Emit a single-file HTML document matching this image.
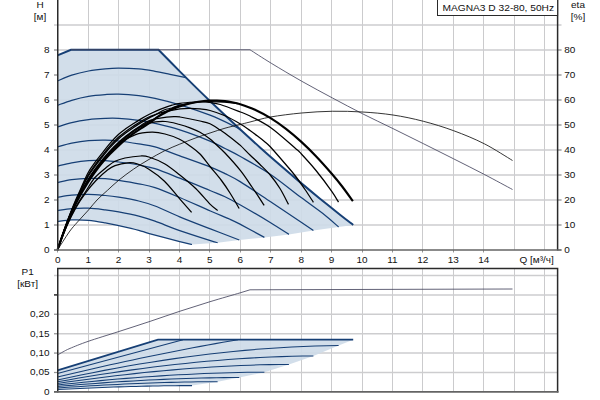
<!DOCTYPE html>
<html><head><meta charset="utf-8"><title>MAGNA3 D 32-80</title>
<style>html,body{margin:0;padding:0;background:#fff;}body{width:600px;height:400px;overflow:hidden;font-family:"Liberation Sans",sans-serif;}svg{display:block;}text{font-family:"Liberation Sans",sans-serif;font-size:10px;fill:#111;}</style>
</head><body>
<svg width="600" height="400" viewBox="0 0 600 400">
<rect x="0" y="0" width="600" height="400" fill="#fff"/>
<path d="M88.5 0V250M88.5 268.5V391.9M118.5 0V250M118.5 268.5V391.9M149.5 0V250M149.5 268.5V391.9M179.5 0V250M179.5 268.5V391.9M209.5 0V250M209.5 268.5V391.9M240.5 0V250M240.5 268.5V391.9M270.5 0V250M270.5 268.5V391.9M301.5 0V250M301.5 268.5V391.9M331.5 0V250M331.5 268.5V391.9M362.5 0V250M362.5 268.5V391.9M392.5 0V250M392.5 268.5V391.9M422.5 0V250M422.5 268.5V391.9M453.5 0V250M453.5 268.5V391.9M483.5 0V250M483.5 268.5V391.9M514.5 0V250M514.5 268.5V391.9M544.5 0V250M544.5 268.5V391.9" fill="none" stroke="#cbcbcd" stroke-width="1"/>
<path d="M54 225H561.5M54 200H561.5M54 175H561.5M54 150H561.5M54 125H561.5M54 100H561.5M54 75H561.5M54 50H561.5M54 25H561.5M54 372.5H558M54 353.1H558M54 333.7H558M54 314.3H558M54 294.9H558M54 275.5H558" fill="none" stroke="#cdcdcf" stroke-width="1.5"/>
<path d="M57.5 55.4L71 49.75L158.5 49.75C162.08 53.39 173.08 64.65 180 71.59C186.92 78.52 193.33 84.85 200 91.35C206.67 97.84 213.33 104.25 220 110.57C226.67 116.89 233.33 123.12 240 129.26C246.67 135.4 253.33 141.45 260 147.42C266.67 153.38 273.33 159.26 280 165.04C286.67 170.83 293.33 176.52 300 182.13C306.67 187.74 313.33 193.26 320 198.69C326.67 204.11 334.47 210.32 340 214.71C345.53 219.09 351 223.27 353.2 224.99L338.6 227L313.4 230.4L288.9 234.4L264.4 237.4L239.3 240L217.6 242.7L192 244.5C189.95 244.02 186.82 243.42 179.7 241.6C172.58 239.78 156.12 235.48 149.3 233.6C142.48 231.72 143.86 231.63 138.75 230.3C133.64 228.97 124.23 226.85 118.65 225.6C113.07 224.35 110.28 223.68 105.25 222.8C100.22 221.92 94.08 220.78 88.5 220.3C82.92 219.82 76.92 219.68 71.75 219.9C66.58 220.12 59.88 221.32 57.5 221.6Z" fill="#cedbe8" fill-opacity="0.92" stroke="none"/>
<path d="M57.5 370.3L158 339.7 L353.2 339.7L338.6 345.6L313.4 356L288.9 364.4L264.4 372.2L239.3 377.5L217.6 381.7L192 385.6L192 385.6L186.4 385.61L180.79 385.64L175.19 385.69L169.58 385.75L163.98 385.83L158.38 385.92L152.77 386.02L147.17 386.14L141.56 386.27L135.96 386.41L130.35 386.56L124.75 386.72L119.15 386.89L113.54 387.08L107.94 387.27L102.33 387.48L96.73 387.7L91.12 387.92L85.52 388.16L79.92 388.41L74.31 388.67L68.71 388.93L63.1 389.21L57.5 389.5Z" fill="#cedbe8" fill-opacity="0.92" stroke="none"/>
<path d="M54 250H57.5M558 250H561.5M54 225H57.5M558 225H561.5M54 200H57.5M558 200H561.5M54 175H57.5M558 175H561.5M54 150H57.5M558 150H561.5M54 125H57.5M558 125H561.5M54 100H57.5M558 100H561.5M54 75H57.5M558 75H561.5M54 50H57.5M558 50H561.5M54 391.9H57.5M54 372.5H57.5M54 353.1H57.5M54 333.7H57.5M54 314.3H57.5M54 294.9H57.5M57.5 250V252.5M88.5 250V252.5M118.5 250V252.5M149.5 250V252.5M179.5 250V252.5M209.5 250V252.5M240.5 250V252.5M270.5 250V252.5M301.5 250V252.5M331.5 250V252.5M362.5 250V252.5M392.5 250V252.5M422.5 250V252.5M453.5 250V252.5M483.5 250V252.5" fill="none" stroke="#959595" stroke-width="1"/>
<path d="M54 294.9H58" fill="none" stroke="#222" stroke-width="1.2"/>
<path d="M57.5 221.6C59.88 221.32 66.58 220.12 71.75 219.9C76.92 219.68 82.92 219.82 88.5 220.3C94.08 220.78 100.22 221.92 105.25 222.8C110.28 223.68 113.07 224.35 118.65 225.6C124.23 226.85 133.64 228.97 138.75 230.3C143.86 231.63 142.48 231.72 149.3 233.6C156.12 235.48 172.58 239.78 179.7 241.6C186.82 243.42 189.95 244.02 192 244.5" fill="none" stroke="#163f75" stroke-width="1.25" stroke-linecap="butt"/>
<path d="M57.5 210.6C59.88 210.27 66.58 209 71.75 208.6C76.92 208.2 82.92 207.98 88.5 208.2C94.08 208.42 100.22 209.28 105.25 209.9C110.28 210.52 113.07 210.87 118.65 211.9C124.23 212.93 132.69 214.55 138.75 216.1C144.81 217.65 148.18 218.78 155 221.2C161.82 223.62 170.47 227.37 179.7 230.6C188.93 233.83 204.08 238.58 210.4 240.6C216.72 242.62 216.4 242.35 217.6 242.7" fill="none" stroke="#163f75" stroke-width="1.25" stroke-linecap="butt"/>
<path d="M57.5 197.3C59.88 196.95 66.58 195.7 71.75 195.2C76.92 194.7 82.92 194.25 88.5 194.3C94.08 194.35 100.22 195.02 105.25 195.5C110.28 195.98 113.07 196.28 118.65 197.2C124.23 198.12 132.69 199.53 138.75 201C144.81 202.47 148.18 203.37 155 206C161.82 208.63 170.47 212.98 179.7 216.8C188.93 220.62 200.47 225.03 210.4 228.9C220.33 232.77 234.48 238.15 239.3 240" fill="none" stroke="#163f75" stroke-width="1.25" stroke-linecap="butt"/>
<path d="M57.5 182.6C59.88 182.12 66.58 180.4 71.75 179.7C76.92 179 82.92 178.57 88.5 178.4C94.08 178.23 100.22 178.37 105.25 178.7C110.28 179.03 113.07 179.55 118.65 180.4C124.23 181.25 132.69 182.6 138.75 183.8C144.81 185 148.18 185.32 155 187.6C161.82 189.88 170.47 193.6 179.7 197.5C188.93 201.4 202.02 207.37 210.4 211C218.78 214.63 225 217.07 230 219.3C235 221.53 234.67 221.38 240.4 224.4C246.13 227.42 260.4 235.23 264.4 237.4" fill="none" stroke="#163f75" stroke-width="1.25" stroke-linecap="butt"/>
<path d="M57.5 166.1C59.88 165.55 66.58 163.72 71.75 162.8C76.92 161.88 82.92 160.97 88.5 160.6C94.08 160.23 100.22 160.37 105.25 160.6C110.28 160.83 113.07 161.27 118.65 162C124.23 162.73 132.69 163.88 138.75 165C144.81 166.12 148.16 166.5 155 168.7C161.84 170.9 170.63 174.57 179.8 178.2C188.97 181.83 202.47 187.42 210 190.5C217.53 193.58 219.93 194.28 225 196.7C230.07 199.12 232.8 200.67 240.4 205C248 209.33 262.52 217.8 270.6 222.7C278.68 227.6 285.85 232.45 288.9 234.4" fill="none" stroke="#163f75" stroke-width="1.25" stroke-linecap="butt"/>
<path d="M57.5 146.9C59.88 146.28 66.58 144.23 71.75 143.2C76.92 142.17 82.92 141.2 88.5 140.7C94.08 140.2 100.22 140.15 105.25 140.2C110.28 140.25 113.07 140.38 118.65 141C124.23 141.62 132.69 142.92 138.75 143.9C144.81 144.88 148.16 144.9 155 146.9C161.84 148.9 170.63 152.58 179.8 155.9C188.97 159.22 202.47 163.85 210 166.8C217.53 169.75 219.92 171.08 225 173.6C230.08 176.12 232.9 177.21 240.5 181.9C248.1 186.59 260.48 195.03 270.6 201.75C280.72 208.47 294.07 217.42 301.2 222.2C308.33 226.97 311.37 229.03 313.4 230.4" fill="none" stroke="#163f75" stroke-width="1.25" stroke-linecap="butt"/>
<path d="M57.5 127.1C59.88 126.35 66.58 123.85 71.75 122.6C76.92 121.35 82.92 120.3 88.5 119.6C94.08 118.9 100.22 118.6 105.25 118.4C110.28 118.2 113.07 118.07 118.65 118.4C124.23 118.73 132.69 119.57 138.75 120.4C144.81 121.23 148.16 121.82 155 123.4C161.84 124.98 170.63 126.95 179.8 129.9C188.97 132.85 202.47 138 210 141.1C217.53 144.2 219.93 145.93 225 148.5C230.07 151.07 232.8 152.18 240.4 156.5C248 160.82 260.47 167.55 270.6 174.4C280.73 181.25 292.13 190.8 301.2 197.6C310.27 204.4 318.77 210.3 325 215.2C331.23 220.1 336.33 225.03 338.6 227" fill="none" stroke="#163f75" stroke-width="1.25" stroke-linecap="butt"/>
<path d="M57.5 105.3C59.88 104.47 66.58 101.78 71.75 100.3C76.92 98.82 82.92 97.35 88.5 96.4C94.08 95.45 100.22 94.98 105.25 94.6C110.28 94.22 113.07 93.93 118.65 94.1C124.23 94.27 132.69 94.9 138.75 95.6C144.81 96.3 148.16 96.77 155 98.3C161.84 99.83 170.63 101.98 179.8 104.8C188.97 107.62 201.01 111.67 210 115.2C218.99 118.73 228.53 123.46 233.75 126C238.97 128.54 240.04 129.71 241.3 130.46" fill="none" stroke="#163f75" stroke-width="1.25" stroke-linecap="butt"/>
<path d="M57.5 81C59.88 80.03 66.58 76.82 71.75 75.15C76.92 73.48 82.92 72.06 88.5 71C94.08 69.94 100.22 69.28 105.25 68.8C110.28 68.32 113.07 68.07 118.65 68.1C124.23 68.12 132.69 68.42 138.75 68.95C144.81 69.48 149.79 70.41 155 71.3C160.21 72.19 164.83 73.25 170 74.3C175.17 75.35 183.33 77.03 186 77.57" fill="none" stroke="#163f75" stroke-width="1.25" stroke-linecap="butt"/>
<path d="M57.5 55.4L71 49.75L158.5 49.75C162.08 53.39 173.08 64.65 180 71.59C186.92 78.52 193.33 84.85 200 91.35C206.67 97.84 213.33 104.25 220 110.57C226.67 116.89 233.33 123.12 240 129.26C246.67 135.4 253.33 141.45 260 147.42C266.67 153.38 273.33 159.26 280 165.04C286.67 170.83 293.33 176.52 300 182.13C306.67 187.74 313.33 193.26 320 198.69C326.67 204.11 334.47 210.32 340 214.71C345.53 219.09 351 223.27 353.2 224.99" fill="none" stroke="#163f75" stroke-width="2" stroke-linejoin="miter"/>
<path d="M71 49.75L250 49.75C253.54 52 262.62 58 271.25 63.25C279.88 68.5 291.54 75.46 301.75 81.25C311.96 87.04 322.38 92.58 332.5 98C342.62 103.42 352.42 108.65 362.5 113.75C372.58 118.85 382.88 123.62 393 128.6C403.12 133.57 413.12 138.55 423.25 143.6C433.38 148.65 443.58 153.77 453.75 158.9C463.92 164.03 474.46 169.3 484.25 174.4C494.04 179.5 507.79 186.98 512.5 189.5" fill="none" stroke="#46465f" stroke-width="0.85"/>
<path d="M57.5 250C59.45 247 65.87 236.67 69.2 232C72.53 227.33 74.28 225.67 77.5 222C80.72 218.33 85.25 213.67 88.5 210C91.75 206.33 93.83 203.28 97 200C100.17 196.72 103.83 193.63 107.5 190.3C111.17 186.97 114.7 183.5 119 180C123.3 176.5 128.47 172.63 133.3 169.3C138.13 165.97 142.8 163.08 148 160C153.2 156.92 159.23 153.43 164.5 150.8C169.77 148.17 174.52 146.3 179.6 144.2C184.68 142.1 189.93 140.07 195 138.2C200.07 136.33 205 134.67 210 133C215 131.33 220 129.62 225 128.2C230 126.78 235.83 125.53 240 124.5C244.17 123.47 244.92 123.25 250 122C255.08 120.75 261.92 118.5 270.5 117C279.08 115.5 291.17 113.96 301.5 113C311.83 112.04 322.33 111.42 332.5 111.25C342.67 111.08 352.42 111.38 362.5 112C372.58 112.62 382.88 113.46 393 115C403.12 116.54 413.12 118.62 423.25 121.25C433.38 123.88 443.58 127 453.75 130.75C463.92 134.5 474.46 138.79 484.25 143.75C494.04 148.71 507.79 157.71 512.5 160.5" fill="none" stroke="#111" stroke-width="0.85"/>
<path d="M57.5 250C59.02 246.08 63.55 233.5 66.6 226.5C69.65 219.5 72.57 213.67 75.8 208C79.03 202.33 82.63 197.08 86 192.5C89.37 187.92 92.42 184.25 96 180.5C99.58 176.75 104.33 172.48 107.5 170C110.67 167.52 111.62 166.8 115 165.6C118.38 164.4 124.13 163.11 127.8 162.8C131.47 162.49 133.48 162.68 137 163.75C140.52 164.82 144.32 166.34 148.9 169.25C153.48 172.16 159.4 176.31 164.5 181.2C169.6 186.09 174.98 193.42 179.5 198.6C184.02 203.78 189.58 210.02 191.6 212.3" fill="none" stroke="#000" stroke-width="1.25"/>
<path d="M57.5 250C59.02 246 63.55 233.17 66.6 226C69.65 218.83 72.57 212.83 75.8 207C79.03 201.17 82.8 195.92 86 191C89.2 186.08 91.42 181.58 95 177.5C98.58 173.42 104.17 169.2 107.5 166.5C110.83 163.8 112.08 162.72 115 161.3C117.92 159.88 120.72 158.88 125 158C129.28 157.12 136.72 156.17 140.7 156C144.68 155.83 144.93 155.71 148.9 157C152.87 158.29 159.4 160.79 164.5 163.75C169.6 166.71 174.3 170.62 179.5 174.75C184.7 178.88 190.62 183.61 195.7 188.5C200.78 193.39 206.33 200.43 210 204.1C213.67 207.77 216.42 209.43 217.7 210.5" fill="none" stroke="#000" stroke-width="1.25"/>
<path d="M57.5 250C58.25 247.79 60.48 241 62 236.75C63.52 232.49 65.1 228.3 66.6 224.47C68.1 220.63 69.47 217.25 71 213.74C72.53 210.23 74.13 206.79 75.8 203.39C77.47 199.99 78.97 197.01 81 193.34C83.03 189.67 85.62 185.08 87.95 181.37C90.28 177.66 92.46 174.52 95 171.07C97.54 167.62 99.3 165.18 103.2 160.67C107.1 156.15 113.1 148.31 118.4 144C123.7 139.69 129.42 136.77 135 134.8C140.58 132.83 146.9 132.33 151.9 132.2C156.9 132.07 160.38 132.83 165 134C169.62 135.17 175.43 137.2 179.6 139.2C183.77 141.2 186.6 143.53 190 146C193.4 148.47 196.67 150.58 200 154C203.33 157.42 206.45 162.12 210 166.5C213.55 170.88 217.97 175.83 221.3 180.25C224.63 184.67 227.02 188.29 230 193C232.98 197.71 237.67 205.92 239.2 208.5" fill="none" stroke="#000" stroke-width="1.25"/>
<path d="M57.5 250C58.25 247.78 60.48 240.96 62 236.68C63.52 232.39 65.1 228.17 66.6 224.3C68.1 220.44 69.47 217.04 71 213.49C72.53 209.94 74.13 206.45 75.8 202.99C77.47 199.54 78.97 196.52 81 192.76C83.03 189.01 85.62 184.22 87.95 180.45C90.28 176.67 92.46 173.57 95 170.11C97.54 166.65 100.7 162.71 103.2 159.68C105.7 156.65 107.47 154.62 110 151.94C112.53 149.25 115.73 146.04 118.4 143.57C121.07 141.1 123.47 139.29 126 137.11C128.53 134.94 129.78 132.82 133.6 130.5C137.42 128.18 143.62 124.7 148.9 123.2C154.18 121.7 160.18 121.28 165.3 121.5C170.42 121.72 175.48 123.45 179.6 124.5C183.72 125.55 186.6 126.5 190 127.8C193.4 129.1 196.67 130.43 200 132.3C203.33 134.17 207.5 137.13 210 139C212.5 140.87 212.5 141.17 215 143.5C217.5 145.83 220.75 148.48 225 153C229.25 157.52 236 164.93 240.5 170.6C245 176.27 248.05 181.2 252 187C255.95 192.8 262.17 202.33 264.2 205.4" fill="none" stroke="#000" stroke-width="1.25"/>
<path d="M57.5 250C58.25 247.77 60.48 240.92 62 236.61C63.52 232.3 65.1 228.04 66.6 224.14C68.1 220.24 69.47 216.82 71 213.23C72.53 209.64 74.13 206.1 75.8 202.6C77.47 199.09 78.97 196.03 81 192.19C83.03 188.34 85.62 183.36 87.95 179.52C90.28 175.68 92.46 172.62 95 169.15C97.54 165.68 100.7 161.75 103.2 158.7C105.7 155.65 107.47 153.58 110 150.86C112.53 148.15 115.73 144.91 118.4 142.44C121.07 139.97 123.47 138.05 126 136.04C128.53 134.04 131.1 132.19 133.6 130.42C136.1 128.66 138.46 127.06 141 125.46C143.54 123.85 145.68 122.01 148.85 120.8C152.02 119.59 155.86 118.88 160 118.2C164.14 117.52 170.37 116.9 173.7 116.7C177.03 116.5 175.62 116.28 180 117C184.38 117.72 195 119.87 200 121C205 122.13 206.67 122.32 210 123.8C213.33 125.28 217.5 128.32 220 129.9C222.5 131.48 222.5 131.45 225 133.3C227.5 135.15 232.43 138.98 235 141C237.57 143.02 237.9 143.07 240.4 145.4C242.9 147.73 246.73 151.82 250 155C253.27 158.18 256.57 161.08 260 164.5C263.43 167.92 267.27 171.5 270.6 175.5C273.93 179.5 277.02 183.68 280 188.5C282.98 193.32 287.08 201.75 288.5 204.4" fill="none" stroke="#000" stroke-width="1.25"/>
<path d="M57.5 250C58.25 247.72 60.48 240.73 62 236.3C63.52 231.87 65.1 227.44 66.6 223.41C68.1 219.37 69.47 215.86 71 212.09C72.53 208.32 74.13 204.55 75.8 200.8C77.47 197.05 78.97 193.83 81 189.59C83.03 185.34 85.62 179.48 87.95 175.35C90.28 171.23 92.46 168.35 95 164.84C97.54 161.33 100.7 157.41 103.2 154.27C105.7 151.14 107.47 148.85 110 146.03C112.53 143.21 115.73 139.8 118.4 137.33C121.07 134.87 123.47 133.12 126 131.23C128.53 129.33 131.1 127.64 133.6 125.97C136.1 124.3 138.46 122.72 141 121.22C143.54 119.73 146.35 118.15 148.85 117C151.35 115.85 153.31 115.2 156 114.3C158.69 113.4 161 112.52 165 111.6C169 110.68 175.83 109.35 180 108.8C184.17 108.25 186.67 108.28 190 108.3C193.33 108.32 196.67 108.53 200 108.9C203.33 109.27 205.83 109.35 210 110.5C214.17 111.65 219.93 113.55 225 115.8C230.07 118.05 236.23 121.55 240.4 124C244.57 126.45 247.15 128.5 250 130.5C252.85 132.5 255 134.1 257.5 136C260 137.9 262.83 140.07 265 141.9C267.17 143.73 267.25 143.48 270.5 147C273.75 150.52 280.42 158.25 284.5 163C288.58 167.75 291.58 171.08 295 175.5C298.42 179.92 301.93 185.03 305 189.5C308.07 193.97 312 200.17 313.4 202.3" fill="none" stroke="#000" stroke-width="1.25"/>
<path d="M57.5 250C58.25 247.69 60.48 240.63 62 236.13C63.52 231.63 65.1 227.11 66.6 223C68.1 218.89 69.47 215.32 71 211.45C72.53 207.59 74.13 203.69 75.8 199.8C77.47 195.92 78.97 192.6 81 188.14C83.03 183.68 85.62 177.32 87.95 173.04C90.28 168.75 92.46 165.98 95 162.44C97.54 158.9 100.7 155 103.2 151.81C105.7 148.63 107.47 146.23 110 143.34C112.53 140.46 115.73 136.97 118.4 134.5C121.07 132.03 123.47 130.38 126 128.55C128.53 126.72 131.1 125.11 133.6 123.5C136.1 121.89 138.46 120.37 141 118.87C143.54 117.38 146.35 115.82 148.85 114.53C151.35 113.23 153.46 112.2 156 111.07C158.54 109.95 161.43 108.78 164.1 107.8C166.77 106.82 169.35 105.96 172 105.21C174.65 104.46 176.17 103.83 180 103.3C183.83 102.77 191.08 102.27 195 102C198.92 101.73 201 101.62 203.5 101.7C206 101.78 207.21 102.03 210 102.5C212.79 102.97 215.18 102.92 220.25 104.5C225.32 106.08 235.44 110.08 240.4 112C245.36 113.92 244.98 113.42 250 116C255.02 118.58 263 122.17 270.5 127.5C278 132.83 289.85 143.58 295 148C300.15 152.42 297.9 150.25 301.4 154C304.9 157.75 310.94 164.28 316 170.5C321.06 176.72 328 186.03 331.75 191.3C335.5 196.57 337.38 200.3 338.5 202.1" fill="none" stroke="#000" stroke-width="1.25"/>
<path d="M57.5 250C58.25 247.78 60.48 240.97 62 236.69C63.52 232.41 65.1 228.19 66.6 224.34C68.1 220.48 69.47 217.08 71 213.54C72.53 210 74.13 206.52 75.8 203.07C77.47 199.63 78.97 196.62 81 192.88C83.03 189.14 85.62 184.39 87.95 180.63C90.28 176.87 92.46 173.76 95 170.31C97.54 166.85 100.7 162.9 103.2 159.88C105.7 156.85 107.47 154.83 110 152.15C112.53 149.47 115.73 146.27 118.4 143.8C121.07 141.33 123.47 139.36 126 137.33C128.53 135.3 131.1 133.4 133.6 131.61C136.1 129.82 138.46 128.21 141 126.58C143.54 124.96 146.35 123.27 148.85 121.83C151.35 120.4 153.46 119.56 156 117.97C158.54 116.37 161.43 113.81 164.1 112.26C166.77 110.71 169.47 109.79 172 108.68C174.53 107.57 175.47 106.66 179.3 105.6C183.13 104.54 189.93 102.97 195 102.3C200.07 101.63 204.75 101.62 209.75 101.6C214.75 101.58 220.29 101.87 225 102.2C229.71 102.53 235.83 103.34 238 103.57" fill="none" stroke="#000" stroke-width="1.25"/>
<path d="M57.5 250C58.25 247.73 60.48 240.79 62 236.4C63.52 232.01 65.1 227.64 66.6 223.65C68.1 219.66 69.47 216.18 71 212.47C72.53 208.76 74.13 205.07 75.8 201.4C77.47 197.73 78.97 194.56 81 190.45C83.03 186.34 85.62 180.77 87.95 176.74C90.28 172.71 92.46 169.78 95 166.28C97.54 162.78 100.7 158.85 103.2 155.75C105.7 152.64 107.47 150.43 110 147.64C112.53 144.86 115.73 141.5 118.4 139.04C121.07 136.57 123.47 134.76 126 132.83C128.53 130.9 131.1 129.15 133.6 127.45C136.1 125.76 138.46 124.19 141 122.63C143.54 121.07 146.35 119.46 148.85 118.09C151.35 116.72 153.46 115.79 156 114.44C158.54 113.09 161.43 111.05 164.1 109.98C166.77 108.9 169.47 108.78 172 108C174.53 107.22 176.97 105.92 179.3 105.3C181.63 104.68 184.88 104.47 186 104.3" fill="none" stroke="#000" stroke-width="1.25"/>
<path d="M57.5 250C58.25 247.8 60.48 241.04 62 236.82C63.52 232.59 65.1 228.43 66.6 224.63C68.1 220.83 69.47 217.47 71 214C72.53 210.52 74.13 207.14 75.8 203.79C77.47 200.45 78.97 197.5 81 193.92C83.03 190.34 85.62 185.95 87.95 182.3C90.28 178.65 92.46 175.47 95 172.03C97.54 168.59 100.7 164.64 103.2 161.65C105.7 158.66 107.47 156.72 110 154.09C112.53 151.45 115.73 148.31 118.4 145.84C121.07 143.37 123.47 141.33 126 139.25C128.53 137.18 131.1 135.22 133.6 133.39C136.1 131.56 138.46 129.94 141 128.28C143.54 126.62 146.02 125.36 148.85 123.44C151.68 121.51 155.46 118.41 158 116.72C160.54 115.02 161.93 114.38 164.1 113.24C166.27 112.1 168.47 110.99 171 109.88C173.53 108.78 176.63 107.54 179.3 106.6C181.97 105.66 184.47 104.92 187 104.23C189.53 103.55 192 102.98 194.5 102.5C197 102.01 199.46 101.61 202 101.3C204.54 100.99 207.25 100.76 209.75 100.64C212.25 100.51 214.46 100.48 217 100.56C219.54 100.64 222.5 100.85 225 101.12C227.5 101.39 229.47 101.69 232 102.2C234.53 102.7 236.37 102.92 240.2 104.17C244.03 105.42 249.93 107.37 255 109.7C260.07 112.03 265.48 114.97 270.65 118.17C275.82 121.37 280.93 124.99 286 128.9C291.07 132.82 296.1 137.1 301.1 141.66C306.1 146.22 310.93 150.95 316 156.26C321.07 161.57 327.22 168.53 331.55 173.53C335.88 178.53 338.44 181.65 342 186.26C345.56 190.87 351.08 198.71 352.9 201.2" fill="none" stroke="#000" stroke-width="2.15"/>
<path d="M57.5 389.5L63.1 389.21L68.71 388.93L74.31 388.67L79.92 388.41L85.52 388.16L91.12 387.92L96.73 387.7L102.33 387.48L107.94 387.27L113.54 387.08L119.15 386.89L124.75 386.72L130.35 386.56L135.96 386.41L141.56 386.27L147.17 386.14L152.77 386.02L158.38 385.92L163.98 385.83L169.58 385.75L175.19 385.69L180.79 385.64L186.4 385.61L192 385.6" fill="none" stroke="#163f75" stroke-width="1.05"/>
<path d="M57.5 388L64.17 387.54L70.84 387.09L77.51 386.65L84.18 386.24L90.85 385.84L97.53 385.45L104.2 385.09L110.87 384.74L117.54 384.4L124.21 384.09L130.88 383.79L137.55 383.51L144.22 383.25L150.89 383L157.56 382.78L164.23 382.57L170.9 382.39L177.57 382.22L184.25 382.08L190.92 381.95L197.59 381.85L204.26 381.77L210.93 381.72L217.6 381.7" fill="none" stroke="#163f75" stroke-width="1.05"/>
<path d="M57.5 386.5L65.08 385.84L72.65 385.2L80.23 384.58L87.8 383.99L95.38 383.42L102.95 382.87L110.53 382.35L118.1 381.85L125.67 381.37L133.25 380.92L140.82 380.5L148.4 380.1L155.98 379.72L163.55 379.37L171.12 379.05L178.7 378.76L186.28 378.49L193.85 378.25L201.43 378.04L209 377.87L216.58 377.72L224.15 377.61L231.73 377.53L239.3 377.5" fill="none" stroke="#163f75" stroke-width="1.05"/>
<path d="M57.5 385L66.12 384.06L74.74 383.15L83.36 382.27L91.98 381.42L100.6 380.61L109.22 379.83L117.85 379.08L126.47 378.37L135.09 377.7L143.71 377.06L152.33 376.45L160.95 375.88L169.57 375.35L178.19 374.85L186.81 374.4L195.43 373.98L204.05 373.6L212.67 373.26L221.3 372.96L229.92 372.71L238.54 372.51L247.16 372.35L255.78 372.24L264.4 372.2" fill="none" stroke="#163f75" stroke-width="1.05"/>
<path d="M57.5 383.5L67.14 382.09L76.78 380.73L86.42 379.42L96.07 378.16L105.71 376.94L115.35 375.78L124.99 374.67L134.63 373.61L144.27 372.6L153.92 371.64L163.56 370.74L173.2 369.89L182.84 369.09L192.48 368.35L202.12 367.67L211.77 367.04L221.41 366.48L231.05 365.98L240.69 365.54L250.33 365.16L259.98 364.85L269.62 364.62L279.26 364.46L288.9 364.4" fill="none" stroke="#163f75" stroke-width="1.05"/>
<path d="M57.5 381.8L68.16 379.9L78.83 378.06L89.49 376.29L100.15 374.59L110.81 372.95L121.47 371.38L132.14 369.88L142.8 368.44L153.46 367.08L164.12 365.79L174.79 364.57L185.45 363.42L196.11 362.34L206.77 361.35L217.44 360.42L228.1 359.58L238.76 358.82L249.42 358.14L260.09 357.54L270.75 357.03L281.41 356.62L292.07 356.3L302.74 356.09L313.4 356" fill="none" stroke="#163f75" stroke-width="1.05"/>
<path d="M57.5 380L69.21 377.46L80.92 375.01L92.64 372.65L104.35 370.38L116.06 368.19L127.78 366.1L139.49 364.1L151.2 362.19L162.91 360.37L174.62 358.64L186.34 357.02L198.05 355.49L209.76 354.05L221.48 352.72L233.19 351.49L244.9 350.37L256.61 349.35L268.33 348.44L280.04 347.65L291.75 346.97L303.46 346.42L315.18 346L326.89 345.71L338.6 345.6" fill="none" stroke="#163f75" stroke-width="1.05"/>
<path d="M57.5 377L65.02 375.21L72.54 373.43L80.06 371.68L87.58 369.94L95.1 368.22L102.62 366.52L110.15 364.84L117.67 363.18L125.19 361.54L132.71 359.92L140.23 358.33L147.75 356.75L155.27 355.2L162.79 353.67L170.31 352.16L177.83 350.68L185.35 349.22L192.88 347.78L200.4 346.37L207.92 344.99L215.44 343.63L222.96 342.3L230.48 341L238 339.73" fill="none" stroke="#163f75" stroke-width="1.05"/>
<path d="M57.5 373.5L183 339.7" fill="none" stroke="#163f75" stroke-width="1.05"/>
<path d="M57.5 370.3L158 339.7L353.2 339.7" fill="none" stroke="#163f75" stroke-width="1.8"/>
<path d="M57.5 355C58.42 354.48 60.92 353 63 351.9C65.08 350.8 65.83 350.15 70 348.4C74.17 346.65 80 344.17 88 341.4C96 338.63 107.67 335.13 118 331.8C128.33 328.47 139.67 324.83 150 321.4C160.33 317.97 170 314.48 180 311.2C190 307.92 200 304.75 210 301.7C220 298.65 235 294.37 240 292.9L250 289.8L512.5 289.0" fill="none" stroke="#46465f" stroke-width="0.85"/>
<path d="M57.75 0V250.5" stroke="#2a2a2a" stroke-width="1.5" fill="none"/>
<path d="M557.6 0V250.5" stroke="#2a2a2a" stroke-width="1.5" fill="none"/>
<path d="M54 250H561.5" stroke="#646464" stroke-width="1.6" fill="none"/>
<path d="M57.75 392.4V268.5H557.6V392.4" stroke="#2a2a2a" stroke-width="1.5" fill="none"/>
<path d="M54 391.9H558.5" stroke="#646464" stroke-width="1.6" fill="none"/>
<rect x="437.5" y="-1" width="120.1" height="16.5" fill="#fff" stroke="#2a2a2a" stroke-width="1"/>
<text transform="translate(442.5 11) scale(1.02 0.9)">MAGNA3 D 32-80, 50Hz</text>
<text transform="translate(40 7.5) scale(1 0.9)" text-anchor="middle">H</text>
<text transform="translate(40 19.9) scale(1 0.9)" text-anchor="middle">[м]</text>
<text transform="translate(578 7.5) scale(1 0.9)" text-anchor="middle">eta</text>
<text transform="translate(578 19.9) scale(1 0.9)" text-anchor="middle">[%]</text>
<text transform="translate(49.5 252.8) scale(1 0.9)" text-anchor="end">0</text>
<text transform="translate(564.3 252.8) scale(1 0.9)">0</text>
<text transform="translate(49.5 227.8) scale(1 0.9)" text-anchor="end">1</text>
<text transform="translate(564.3 227.8) scale(1 0.9)">10</text>
<text transform="translate(49.5 202.8) scale(1 0.9)" text-anchor="end">2</text>
<text transform="translate(564.3 202.8) scale(1 0.9)">20</text>
<text transform="translate(49.5 177.8) scale(1 0.9)" text-anchor="end">3</text>
<text transform="translate(564.3 177.8) scale(1 0.9)">30</text>
<text transform="translate(49.5 152.8) scale(1 0.9)" text-anchor="end">4</text>
<text transform="translate(564.3 152.8) scale(1 0.9)">40</text>
<text transform="translate(49.5 127.8) scale(1 0.9)" text-anchor="end">5</text>
<text transform="translate(564.3 127.8) scale(1 0.9)">50</text>
<text transform="translate(49.5 102.8) scale(1 0.9)" text-anchor="end">6</text>
<text transform="translate(564.3 102.8) scale(1 0.9)">60</text>
<text transform="translate(49.5 77.8) scale(1 0.9)" text-anchor="end">7</text>
<text transform="translate(564.3 77.8) scale(1 0.9)">70</text>
<text transform="translate(49.5 52.8) scale(1 0.9)" text-anchor="end">8</text>
<text transform="translate(564.3 52.8) scale(1 0.9)">80</text>
<text transform="translate(57.8 263.2) scale(1 0.9)" text-anchor="middle">0</text>
<text transform="translate(88.22 263.2) scale(1 0.9)" text-anchor="middle">1</text>
<text transform="translate(118.64 263.2) scale(1 0.9)" text-anchor="middle">2</text>
<text transform="translate(149.06 263.2) scale(1 0.9)" text-anchor="middle">3</text>
<text transform="translate(179.48 263.2) scale(1 0.9)" text-anchor="middle">4</text>
<text transform="translate(209.9 263.2) scale(1 0.9)" text-anchor="middle">5</text>
<text transform="translate(240.32 263.2) scale(1 0.9)" text-anchor="middle">6</text>
<text transform="translate(270.74 263.2) scale(1 0.9)" text-anchor="middle">7</text>
<text transform="translate(301.16 263.2) scale(1 0.9)" text-anchor="middle">8</text>
<text transform="translate(331.58 263.2) scale(1 0.9)" text-anchor="middle">9</text>
<text transform="translate(362 263.2) scale(1 0.9)" text-anchor="middle">10</text>
<text transform="translate(392.42 263.2) scale(1 0.9)" text-anchor="middle">11</text>
<text transform="translate(422.84 263.2) scale(1 0.9)" text-anchor="middle">12</text>
<text transform="translate(453.26 263.2) scale(1 0.9)" text-anchor="middle">13</text>
<text transform="translate(483.68 263.2) scale(1 0.9)" text-anchor="middle">14</text>
<text transform="translate(519.5 263.2) scale(1 0.9)">Q [м³/ч]</text>
<text transform="translate(27.6 275.4) scale(1 0.9)" text-anchor="middle">P1</text>
<text transform="translate(27.6 287.4) scale(1 0.9)" text-anchor="middle">[кВт]</text>
<text transform="translate(49.5 394.7) scale(1 0.9)" text-anchor="end">0</text>
<text transform="translate(49.5 375.3) scale(1 0.9)" text-anchor="end">0,05</text>
<text transform="translate(49.5 355.9) scale(1 0.9)" text-anchor="end">0,10</text>
<text transform="translate(49.5 336.5) scale(1 0.9)" text-anchor="end">0,15</text>
<text transform="translate(49.5 317.1) scale(1 0.9)" text-anchor="end">0,20</text>
</svg>
</body></html>
